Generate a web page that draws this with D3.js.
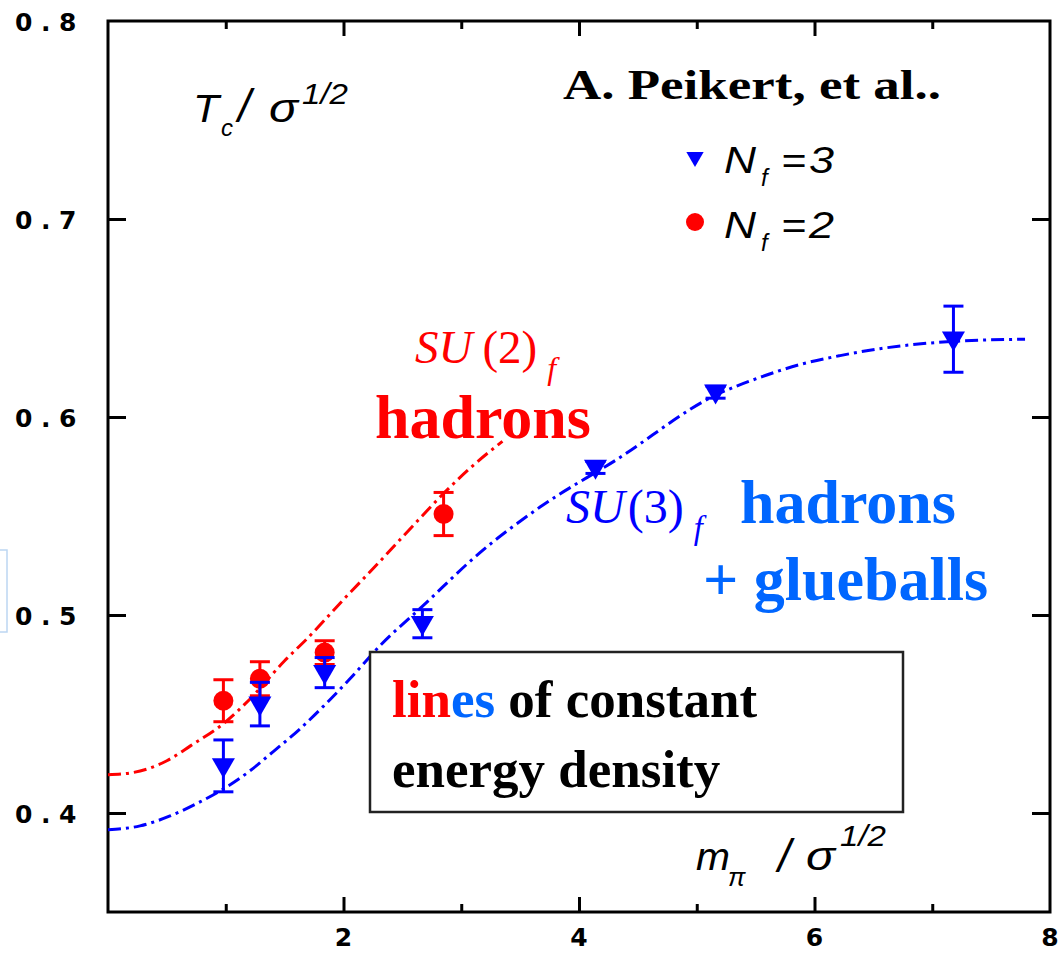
<!DOCTYPE html>
<html>
<head>
<meta charset="utf-8">
<script src="https://cdn.jsdelivr.net/npm/d3@7"></script>
<style>
  body { margin: 0; background: #fff; }
  svg { display: block; }
</style>
</head>
<body>
<svg id="chart" width="1062" height="953"></svg>
<script>
// ---- axis ticks ----
const xMajorTicks = [2, 4, 6];
const xMinorTicks = [1, 3, 5, 7];
const xTickLabels = [2, 4, 6, 8];
const yTicks = [0.4, 0.5, 0.6, 0.7];
const yTickLabels = [0.4, 0.5, 0.6, 0.7, 0.8];

// ---- lattice data: Tc/sqrt(sigma) vs m_pi/sqrt(sigma) ----
const nf2X = [0.98, 1.29, 1.84, 2.85];
const nf2Y = [0.4567, 0.4678, 0.481, 0.551];
const nf2Err = [0.0106, 0.0086, 0.006, 0.0109];

const nf3X = [0.98, 1.29, 1.84, 2.67, 4.14, 5.16, 7.18];
const nf3Y = [0.4238, 0.455, 0.4709, 0.4956, 0.5745, 0.6125, 0.6393];
const nf3Err = [0.0131, 0.011, 0.0076, 0.0071, 0.003, 0.003, 0.0167];

// ---- lines of constant energy density ----
const su2LineX = [0, 0.2, 0.5, 0.7, 1.0, 1.2, 1.5, 1.7, 2.0, 2.3, 2.6, 2.85, 3.1, 3.35];
const su2LineY = [0.4193, 0.4203, 0.4264, 0.4339, 0.4461, 0.4572, 0.4769, 0.4886, 0.5078, 0.5265, 0.5457, 0.5614, 0.5755, 0.5877];

const su3LineX = [0, 0.272, 0.527, 0.781, 0.968, 1.206, 1.401, 1.631, 1.826, 2.055, 2.31, 2.667, 3.159, 3.669, 4.323, 5.155, 5.537, 5.877, 6.217, 6.556, 7.125, 7.788];
const su3LineY = [0.3915, 0.3935, 0.3985, 0.4056, 0.4117, 0.4213, 0.4309, 0.4425, 0.4537, 0.4678, 0.4845, 0.5042, 0.5315, 0.5545, 0.5786, 0.6109, 0.620, 0.6265, 0.631, 0.6345, 0.638, 0.6393];

const RED = "#ff0000";
const BLUE = "#0000ff";
const LIGHT_BLUE = "#0066ff";

const svg = d3.select("#chart");
svg.append("rect").attr("width", 1062).attr("height", 953).attr("fill", "#fff");

const x = d3.scaleLinear().domain([0, 8]).range([108, 1050]);
const y = d3.scaleLinear().domain([0.35, 0.8]).range([912, 21]);

// faint frame fragment at the far left edge
svg.append("rect").attr("x", -10).attr("y", 550).attr("width", 17).attr("height", 82)
  .attr("fill", "none").attr("stroke", "#bcd6f2").attr("stroke-width", 1.5);

// ---- ticks (inward, mirrored on all four sides) ----
function styleAxis(g) {
  g.select(".domain").remove();
  g.selectAll(".tick line").attr("stroke", "#000").attr("stroke-width", 3);
  g.selectAll(".tick text").remove();
}
svg.append("g").attr("transform", `translate(0,${y(0.35)})`)
  .call(d3.axisBottom(x).tickValues(xMajorTicks).tickSize(-15).tickFormat("")).call(styleAxis);
svg.append("g").attr("transform", `translate(0,${y(0.35)})`)
  .call(d3.axisBottom(x).tickValues(xMinorTicks).tickSize(-8).tickFormat("")).call(styleAxis);
svg.append("g").attr("transform", `translate(0,${y(0.8)})`)
  .call(d3.axisTop(x).tickValues(xMajorTicks).tickSize(-15).tickFormat("")).call(styleAxis);
svg.append("g").attr("transform", `translate(0,${y(0.8)})`)
  .call(d3.axisTop(x).tickValues(xMinorTicks).tickSize(-8).tickFormat("")).call(styleAxis);
svg.append("g").attr("transform", `translate(${x(0)},0)`)
  .call(d3.axisLeft(y).tickValues(yTicks).tickSize(-18).tickFormat("")).call(styleAxis);
svg.append("g").attr("transform", `translate(${x(8)},0)`)
  .call(d3.axisRight(y).tickValues(yTicks).tickSize(-18).tickFormat("")).call(styleAxis);

// plot frame
svg.append("rect")
  .attr("x", x(0)).attr("y", y(0.8))
  .attr("width", x(8) - x(0)).attr("height", y(0.35) - y(0.8))
  .attr("fill", "none").attr("stroke", "#000").attr("stroke-width", 3);

// tick labels
const tickFont = "'DejaVu Sans', Verdana, sans-serif";
svg.append("g").selectAll("text").data(yTickLabels).join("text")
  .attr("x", 15).attr("y", d => y(d) + 1)
  .attr("dominant-baseline", "central")
  .attr("font-family", tickFont).attr("font-weight", "bold")
  .attr("font-size", 25).attr("letter-spacing", "8.5px")
  .attr("fill", "#000")
  .text(d => d3.format(".1f")(d));
svg.append("g").selectAll("text").data(xTickLabels).join("text")
  .attr("x", d => x(d)).attr("y", 937)
  .attr("text-anchor", "middle").attr("dominant-baseline", "central")
  .attr("font-family", tickFont).attr("font-weight", "bold")
  .attr("font-size", 25).attr("fill", "#000")
  .text(d => d);

// ---- axis titles and legend text (wide italic sans) ----
const titleFont = "'Liberation Sans', Arial, sans-serif";
function piece(tx, ty, size, str, width) {
  const t = svg.append("text").attr("x", tx).attr("y", ty)
    .attr("font-family", titleFont).attr("font-style", "italic")
    .attr("font-size", size).attr("fill", "#000").text(str);
  if (width) t.attr("textLength", width).attr("lengthAdjust", "spacingAndGlyphs");
}
// T_c / sigma^(1/2)
piece(193, 122, 39, "T", 26);
piece(221, 136, 24, "c");
piece(238, 122, 46, "/");
piece(269, 122, 40, "σ", 29);
piece(302, 104, 30, "1/2", 46);
// m_pi / sigma^(1/2)
piece(696, 870, 39, "m", 34);
piece(728, 886, 26, "π");
piece(778, 872, 46, "/");
piece(806, 870, 40, "σ", 29);
piece(840, 846, 30, "1/2", 46);

// ---- energy-density lines ----
const lineGen = d3.line().x(d => x(d[0])).y(d => y(d[1])).curve(d3.curveMonotoneX);
svg.append("path").datum(d3.zip(su2LineX, su2LineY))
  .attr("d", lineGen).attr("fill", "none").attr("stroke", RED)
  .attr("stroke-width", 3).attr("stroke-dasharray", "13,5,3,5");
svg.append("path").datum(d3.zip(su3LineX, su3LineY))
  .attr("d", lineGen).attr("fill", "none").attr("stroke", BLUE)
  .attr("stroke-width", 3).attr("stroke-dasharray", "13,5,3,5");

// ---- data points with error bars ----
function errorBars(xs, ys, es, color) {
  const g = svg.append("g").attr("stroke", color).attr("stroke-width", 3);
  const pts = d3.zip(xs, ys, es);
  g.selectAll(".stem").data(pts).join("line")
    .attr("x1", d => x(d[0])).attr("x2", d => x(d[0]))
    .attr("y1", d => y(d[1] - d[2])).attr("y2", d => y(d[1] + d[2]));
  g.selectAll(".capT").data(pts).join("line")
    .attr("x1", d => x(d[0]) - 10).attr("x2", d => x(d[0]) + 10)
    .attr("y1", d => y(d[1] + d[2])).attr("y2", d => y(d[1] + d[2]));
  g.selectAll(".capB").data(pts).join("line")
    .attr("x1", d => x(d[0]) - 10).attr("x2", d => x(d[0]) + 10)
    .attr("y1", d => y(d[1] - d[2])).attr("y2", d => y(d[1] - d[2]));
}
const triDown = d3.symbol().type(d3.symbolTriangle).size(230);

errorBars(nf2X, nf2Y, nf2Err, RED);
svg.append("g").selectAll("circle").data(d3.zip(nf2X, nf2Y)).join("circle")
  .attr("cx", d => x(d[0])).attr("cy", d => y(d[1])).attr("r", 10).attr("fill", RED);

errorBars(nf3X, nf3Y, nf3Err, BLUE);
svg.append("g").selectAll("path").data(d3.zip(nf3X, nf3Y)).join("path")
  .attr("d", triDown)
  .attr("transform", d => `translate(${x(d[0])},${y(d[1]) - 1}) rotate(180)`)
  .attr("fill", BLUE);

// ---- legend ----
svg.append("path").attr("d", d3.symbol().type(d3.symbolTriangle).size(130))
  .attr("transform", "translate(695,157) rotate(180)").attr("fill", BLUE);
svg.append("circle").attr("cx", 695).attr("cy", 222).attr("r", 9).attr("fill", RED);
[[173, "3"], [238, "2"]].forEach(([by, n]) => {
  piece(724, by, 36, "N", 32);
  piece(761, by + 13, 24, "f");
  piece(781, by, 36, "=", 25);
  piece(809, by, 36, n, 25);
});

// ---- annotations ----
const serif = "'Liberation Serif', 'Times New Roman', serif";
svg.append("text").attr("x", 563).attr("y", 99)
  .attr("font-family", serif).attr("font-weight", "bold").attr("font-size", 42)
  .attr("textLength", 378).attr("lengthAdjust", "spacingAndGlyphs")
  .attr("fill", "#000").text("A. Peikert, et al..");

function suLabel(tx, ty, size, digit, color, gap) {
  const t = svg.append("text").attr("x", tx).attr("y", ty)
    .attr("font-family", serif).attr("font-size", size).attr("fill", color);
  t.append("tspan").attr("font-style", "italic").text("SU");
  t.append("tspan").attr("dx", gap).text(`(${digit})`);
  t.append("tspan").attr("font-style", "italic").attr("font-size", size * 0.68)
    .attr("dx", 10).attr("dy", 16).text("f");
}
suLabel(415, 363, 47, 2, RED, 10);
svg.append("text").attr("x", 375).attr("y", 438)
  .attr("font-family", serif).attr("font-weight", "bold").attr("font-size", 62)
  .attr("fill", RED).text("hadrons");

suLabel(566, 523, 48, 3, BLUE, 3);
svg.append("text").attr("x", 740).attr("y", 523)
  .attr("font-family", serif).attr("font-weight", "bold").attr("font-size", 62)
  .attr("fill", LIGHT_BLUE).text("hadrons");
svg.append("text").attr("x", 703).attr("y", 600)
  .attr("font-family", serif).attr("font-weight", "bold").attr("font-size", 62)
  .attr("fill", LIGHT_BLUE).text("+ glueballs");

// boxed note
svg.append("rect").attr("x", 370).attr("y", 652).attr("width", 533).attr("height", 160)
  .attr("fill", "#fff").attr("stroke", "#222").attr("stroke-width", 2.5);
const note = svg.append("text").attr("font-family", serif).attr("font-weight", "bold")
  .attr("font-size", 53).attr("fill", "#000");
const l1 = note.append("tspan").attr("x", 392).attr("y", 717);
l1.append("tspan").attr("fill", RED).text("lin");
l1.append("tspan").attr("fill", LIGHT_BLUE).text("es");
l1.append("tspan").text(" of constant");
note.append("tspan").attr("x", 392).attr("y", 787).text("energy density");
</script>
</body>
</html>
